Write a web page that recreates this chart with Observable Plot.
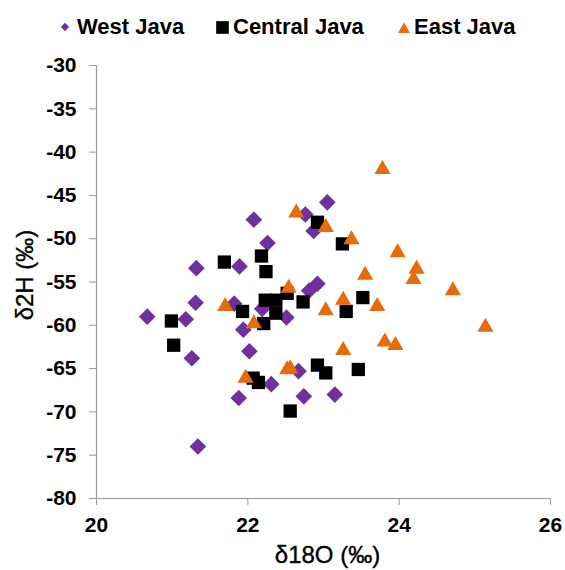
<!DOCTYPE html>
<html>
<head>
<meta charset="utf-8">
<script src="https://cdn.jsdelivr.net/npm/d3@7"></script>
<script src="https://cdn.jsdelivr.net/npm/@observablehq/plot@0.6"></script>
<style>
  html, body { margin: 0; padding: 0; background: #fff; }
  #chart { width: 565px; }
  #chart svg { display: block; }
</style>
</head>
<body>
<div id="chart"></div>
<script>
// Stable isotope composition of samples by province
const regions = ["West Java", "Central Java", "East Java"];

const westJavaD18O = [20.67, 21.18, 21.31, 21.32, 21.26, 21.34, 22.08, 22.26, 21.89, 21.82, 22.19, 21.94,
                      22.02, 21.88, 22.31, 22.51, 22.67, 22.74, 23.15, 22.76, 23.05, 22.87, 22.81, 22.92];
const westJavaD2H  = [-59.0, -59.3, -57.4, -53.4, -63.8, -74.0, -47.8, -50.5, -53.2, -57.5, -58.1, -60.5,
                      -63.0, -68.4, -66.8, -59.1, -65.3, -68.2, -68.0, -47.2, -45.8, -49.1, -56.0, -55.2];

const centralJavaD18O = [20.99, 21.02, 21.69, 22.18, 22.24, 22.23, 22.37, 21.93, 22.37, 22.21, 22.52,
                         22.73, 22.07, 22.14, 22.56, 22.92, 23.03, 23.46, 22.92, 23.25, 23.52, 23.30];
const centralJavaD2H  = [-59.5, -62.3, -52.7, -52.0, -53.8, -57.1, -57.1, -58.4, -58.6, -59.8, -56.3,
                         -57.3, -66.1, -66.6, -69.9, -64.6, -65.5, -65.1, -48.1, -50.6, -56.8, -58.4];

const eastJavaD18O = [21.70, 22.08, 21.97, 22.54, 22.52, 22.56, 22.64, 23.03, 23.37, 23.78, 23.98,
                      24.23, 24.19, 23.55, 24.71, 23.26, 23.71, 23.03, 25.14, 23.81, 23.95, 23.26];
const eastJavaD2H  = [-57.8, -59.8, -66.1, -55.7, -65.1, -65.0, -47.0, -48.7, -50.1, -42.0, -51.6,
                      -53.5, -54.7, -54.2, -56.0, -57.1, -57.8, -58.3, -60.2, -61.9, -62.3, -62.9];

const xTicks = [20, 22, 24, 26];
const yTicks = [-80, -75, -70, -65, -60, -55, -50, -45, -40, -35, -30];
const xTitle = "δ18O (‰)";
const yTitle = "δ2H (‰)";

const toRows = (xs, ys, region) => xs.map((x, i) => ({region, d18O: x, d2H: ys[i]}));
const west = toRows(westJavaD18O, westJavaD2H, regions[0]);
const central = toRows(centralJavaD18O, centralJavaD2H, regions[1]);
const east = toRows(eastJavaD18O, eastJavaD2H, regions[2]);

const FONT = "'Liberation Sans', Arial, sans-serif";
const PURPLE = "#7030A0", BLACK = "#000000", ORANGE = "#E46C0A", AXIS = "#9a9a9a";

// Legend row
const legend = d3.create("svg")
  .attr("width", 565).attr("height", 50)
  .attr("font-family", FONT).attr("font-size", 22).attr("font-weight", "bold");
const items = [
  {sym: d3.symbolDiamond2, size: 44, color: PURPLE, cx: 65, cy: 27, tx: 77},
  {sym: d3.symbolSquare, size: 160, color: BLACK, cx: 222.5, cy: 27.5, tx: 233},
  {sym: d3.symbolTriangle, size: 62, color: ORANGE, cx: 404, cy: 29.5, tx: 414}
];
items.forEach((it, i) => {
  legend.append("path")
    .attr("transform", `translate(${it.cx},${it.cy})`)
    .attr("d", d3.symbol(it.sym, it.size)())
    .attr("fill", it.color);
  legend.append("text").attr("x", it.tx).attr("y", 33.5).attr("fill", "#000").text(regions[i]);
});

const plot = Plot.plot({
  width: 565,
  height: 520,
  marginTop: 15,
  marginRight: 15,
  marginBottom: 72,
  marginLeft: 96,
  style: {fontFamily: FONT, fontSize: "21px", color: "#000", background: "#fff", overflow: "visible"},
  x: {domain: [20, 26]},
  y: {domain: [-80, -30]},
  marks: [
    Plot.axisX({ticks: xTicks, tickFormat: d => `${d}`, tickSize: 7, tickPadding: 12,
                fontSize: 21, fontWeight: "bold", stroke: AXIS, fill: "#000", label: null}),
    Plot.axisY({ticks: yTicks, tickFormat: d => `${d}`, tickSize: 7, tickPadding: 13,
                fontSize: 21, fontWeight: "bold", stroke: AXIS, fill: "#000", label: null}),
    Plot.ruleX([20], {stroke: AXIS, strokeWidth: 1.2}),
    Plot.ruleY([-80], {stroke: AXIS, strokeWidth: 1.2}),
    // axis titles
    Plot.text([xTitle], {frameAnchor: "bottom", textAnchor: "middle", lineAnchor: "middle",
                         dy: 57, dx: 4, fontSize: 24, fill: "#000", stroke: "#000", strokeWidth: 0.35}),
    Plot.text([yTitle], {frameAnchor: "left", textAnchor: "middle", lineAnchor: "middle",
                         dx: -71, dy: -7, rotate: -90, fontSize: 24, fill: "#000", stroke: "#000", strokeWidth: 0.35}),
    Plot.dot(west, {x: "d18O", y: "d2H", symbol: "diamond2", r: 7.5, fill: PURPLE}),
    Plot.dot(central, {x: "d18O", y: "d2H", symbol: "square", r: 7.5, fill: BLACK}),
    Plot.dot(east, {x: "d18O", y: "d2H", symbol: "triangle", r: 6, fill: ORANGE})
  ]
});

const chart = document.getElementById("chart");
chart.appendChild(legend.node());
chart.appendChild(plot);
</script>
</body>
</html>
